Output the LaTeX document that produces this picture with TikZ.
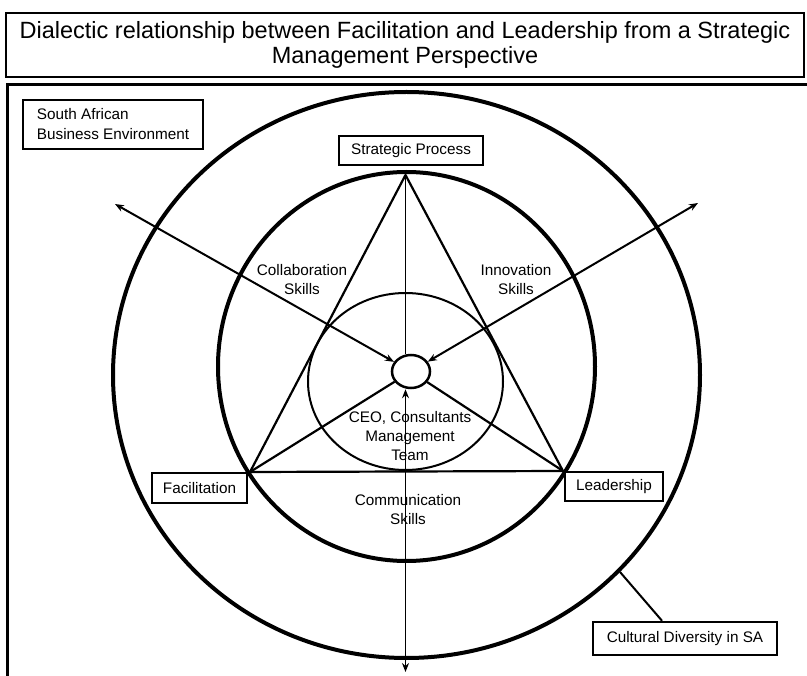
\documentclass[tikz,border=0pt]{standalone}
\usepackage{fontspec}
\setmainfont{Liberation Sans}
\usetikzlibrary{shapes.geometric,arrows.meta}
\begin{document}
\begin{tikzpicture}[x=1pt,y=-1pt,
  lbl/.style={font=\fontsize{15.3}{19}\selectfont, align=center, inner sep=0pt},
  boxlbl/.style={draw, line width=1.5pt, fill=white, font=\fontsize{15.3}{20}\selectfont, inner sep=0pt},
  ring/.style={ellipse, draw, line width=4pt, inner sep=0pt},
  thinring/.style={ellipse, draw, line width=2pt, inner sep=0pt},
  link/.style={line width=2.2pt},
  axis/.style={line width=1.7pt},
  arr/.style={line width=2pt, {Stealth[length=9pt,width=7pt]}-{Stealth[length=9pt,width=7pt]}}
]
\useasboundingbox (0,0) rectangle (807,676);
% frames
\node[draw, line width=2.5pt, minimum width=798pt, minimum height=64pt, inner sep=0pt,
      align=center, font=\fontsize{23.5}{25}\selectfont] (title) at (405,45)
  {Dialectic relationship between Facilitation and Leadership from a Strategic\\Management Perspective};
\coordinate (mbtl) at (7,85);
\coordinate (mbbr) at (815,690);
\draw[line width=3pt] (mbtl) rectangle (mbbr);
% rings
\node[ring, minimum width=587pt, minimum height=566pt] (outer) at (406.5,375) {};
\node[ring, minimum width=377pt, minimum height=389pt] (inner) at (406.5,366.5) {};
\node[thinring, minimum width=195pt, minimum height=177pt] (mid) at (405.5,381.5) {};
\node[ellipse, draw, line width=2.5pt, inner sep=0pt, minimum width=38pt, minimum height=33pt] (core) at (411,371.5) {};
% triangle
\coordinate (T) at (405.5,175);
\coordinate (L) at (250,472);
\coordinate (R) at (563,471);
\draw[link, line join=round] (T) -- (L) -- (R) -- cycle;
% connectors
\coordinate (ul) at (115,204);
\coordinate (ur) at (698,203);
\coordinate (bot) at (405.5,672);
\coordinate (cdpt) at (620,572);
\draw[arr] (ul) -- (core);
\draw[arr] (ur) -- (core);
\draw[axis] (T) -- (T |- core.north);
\draw[arr, line width=1.7pt] (T |- core.south) -- (bot);
\draw[link] (core) -- (L);
\draw[link] (core) -- (R);
% labels
\node[lbl] (collab) at (302,280) {Collaboration\\Skills};
\node[lbl] (innov) at (516,280) {Innovation\\Skills};
\node[lbl] (ceo) at (410,436) {CEO, Consultants\\Management\\Team};
\node[lbl] (comm) at (408,510) {Communication\\Skills};
% boxes
\node[boxlbl, minimum width=180pt, minimum height=49pt, align=left] (sabe) at (113,124.5) {South African\\ Business Environment};
\node[boxlbl, minimum width=144pt, minimum height=29pt] (sp) at (411,150.5) {Strategic Process};
\node[boxlbl, minimum width=95pt, minimum height=30pt] (fac) at (199.5,488) {Facilitation};
\node[boxlbl, minimum width=98pt, minimum height=29pt] (lead) at (614,486.5) {Leadership};
\node[boxlbl, line width=2.5pt, minimum width=184pt, minimum height=33pt] (cds) at (685,638.5) {Cultural Diversity in SA};
\draw[line width=2pt] (cds.north -| 662,0) -- (cdpt);
\end{tikzpicture}
\end{document}
